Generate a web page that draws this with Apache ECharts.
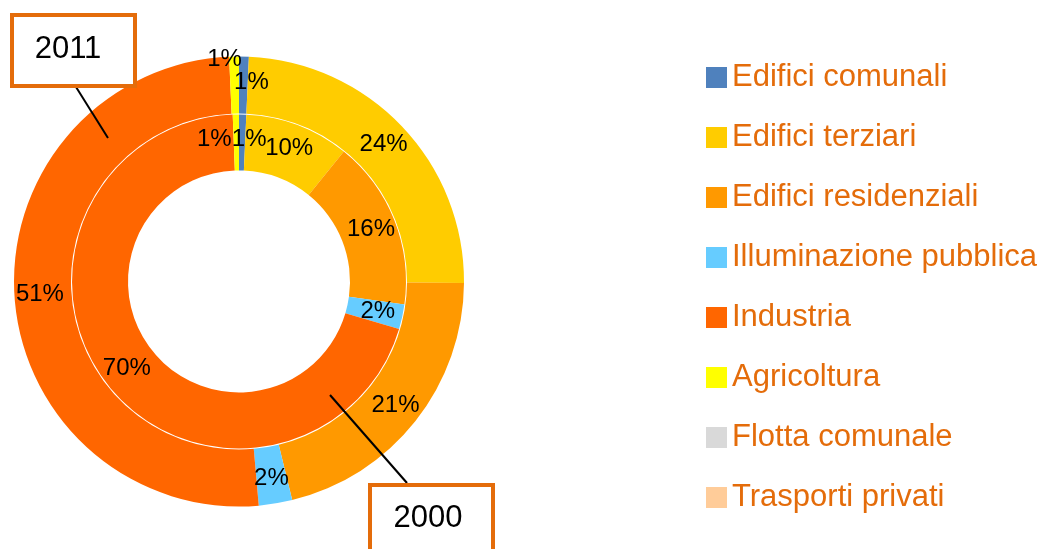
<!DOCTYPE html>
<html>
<head>
<meta charset="utf-8">
<script src="https://cdn.jsdelivr.net/npm/echarts@6/dist/echarts.min.js"></script>
<style>
html,body{margin:0;padding:0;background:#fff;}
#chart{width:1048px;height:549px;}
</style>
</head>
<body>
<div id="chart"></div>
<script>
const categories = ['Edifici comunali','Edifici terziari','Edifici residenziali','Illuminazione pubblica','Industria','Agricoltura','Flotta comunale','Trasporti privati'];
const colors = ['#4F81BD','#FFCC00','#FF9900','#66CCFF','#FF6600','#FFFF00','#D9D9D9','#FFCC99'];
const values2011 = [0.7, 24.4, 21.1, 2.4, 50.7, 0.7, 0, 0];
const values2000 = [0.7, 10.1, 16.4, 2.4, 69.8, 0.6, 0, 0];
const yearLabels = ['2011', '2000'];

const FONT = 'Liberation Sans';
const outerOffsets = {0:[8,0], 5:[-10,-23]};
const innerOffsets = {0:[7,0], 5:[-22,0]};

function buildData(vals, offsets) {
  return categories.map((c, i) => {
    const d = { name: c, value: vals[i], itemStyle: { color: colors[i] } };
    if (vals[i] === 0) d.label = { show: false };
    else if (offsets[i]) d.label = { offset: offsets[i] };
    return d;
  });
}

const labelCfg = {
  show: true,
  position: 'inside',
  color: '#000',
  fontFamily: FONT,
  fontSize: 24,
  formatter: p => Math.round(p.percent) + '%'
};

const chart = echarts.init(document.getElementById('chart'), null, { renderer: 'canvas' });
chart.setOption({
  animation: false,
  backgroundColor: '#fff',
  legend: {
    orient: 'vertical',
    left: 706,
    top: 62,
    padding: 0,
    itemWidth: 21,
    itemHeight: 21,
    itemGap: 29,
    icon: 'rect',
    selectedMode: false,
    data: categories,
    textStyle: { fontFamily: FONT, fontSize: 31, color: '#E46C0A' }
  },
  series: [
    {
      name: yearLabels[0],
      type: 'pie',
      center: [239, 281.5],
      radius: [168, 225],
      startAngle: 90,
      clockwise: true,
      avoidLabelOverlap: false,
      label: labelCfg,
      labelLayout: { hideOverlap: false },
      labelLine: { show: false },
      emphasis: { disabled: true },
      itemStyle: { borderWidth: 0 },
      data: buildData(values2011, outerOffsets)
    },
    {
      name: yearLabels[1],
      type: 'pie',
      center: [239, 281.5],
      radius: [111, 167],
      startAngle: 90,
      clockwise: true,
      avoidLabelOverlap: false,
      label: labelCfg,
      labelLayout: { hideOverlap: false },
      labelLine: { show: false },
      emphasis: { disabled: true },
      itemStyle: { borderWidth: 0 },
      data: buildData(values2000, innerOffsets)
    }
  ],
  graphic: [
    { type: 'line', shape: { x1: 76, y1: 87, x2: 108, y2: 138 }, style: { stroke: '#000', lineWidth: 2 }, z: 10 },
    { type: 'line', shape: { x1: 330, y1: 395, x2: 407, y2: 483 }, style: { stroke: '#000', lineWidth: 2 }, z: 10 },
    { type: 'rect', shape: { x: 12, y: 15, width: 123, height: 71 }, style: { fill: '#fff', stroke: '#E46C0A', lineWidth: 4 }, z: 11 },
    { type: 'text', x: 68, y: 49, style: { text: yearLabels[0], font: '31px "Liberation Sans"', fill: '#000', align: 'center', verticalAlign: 'middle' }, z: 12 },
    { type: 'rect', shape: { x: 370, y: 485, width: 123, height: 80 }, style: { fill: '#fff', stroke: '#E46C0A', lineWidth: 4 }, z: 11 },
    { type: 'text', x: 428, y: 518, style: { text: yearLabels[1], font: '31px "Liberation Sans"', fill: '#000', align: 'center', verticalAlign: 'middle' }, z: 12 }
  ]
});
</script>
</body>
</html>
